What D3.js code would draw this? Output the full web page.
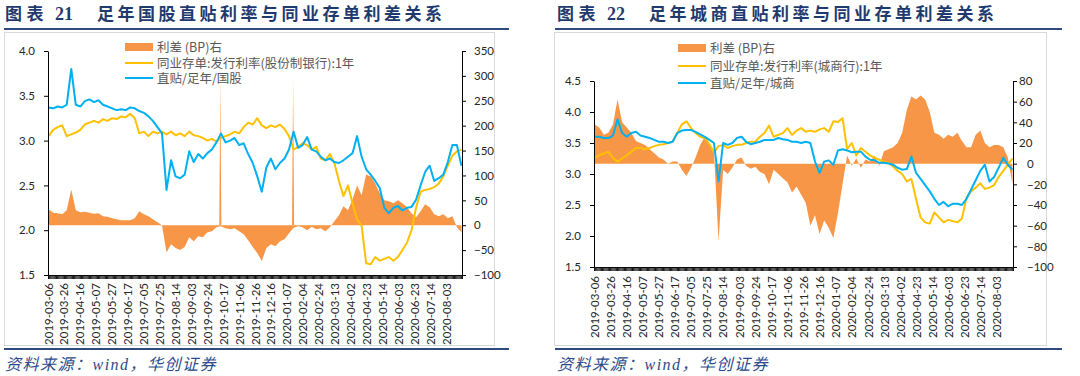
<!DOCTYPE html>
<html>
<head>
<meta charset="utf-8">
<script src="https://cdn.jsdelivr.net/npm/d3@7"></script>
<style>
  body { margin: 0; background: #fff; }
  svg { display: block; }
  .tick text, .date-label { font-family: Lato, "Liberation Sans", sans-serif; font-size: 11.5px; fill: #262626; }
</style>
</head>
<body>
<svg id="chart" width="1080" height="376"></svg>
<script>
// trading days shown on both x axes (2019-03-06 .. ~2020-08-20)
const dayCount = 364
const labelEvery = 14
const dateLabels = [
  '2019-03-06', '2019-03-26', '2019-04-16', '2019-05-07', '2019-05-27', '2019-06-17',
  '2019-07-05', '2019-07-25', '2019-08-14', '2019-09-03', '2019-09-24', '2019-10-17',
  '2019-11-06', '2019-11-26', '2019-12-16', '2020-01-07', '2020-02-04', '2020-02-24',
  '2020-03-13', '2020-04-02', '2020-04-23', '2020-05-14', '2020-06-03', '2020-06-23',
  '2020-07-14', '2020-08-03'
]

// chart 21: 国股 (values read every ~4 trading days)
const gbBill = [
  3.37, 3.36, 3.38, 3.37, 3.40, 3.80, 3.40, 3.38, 3.44, 3.46,
  3.43, 3.45, 3.40, 3.38, 3.36, 3.34, 3.35, 3.34, 3.37, 3.36,
  3.33, 3.31, 3.27, 3.22, 3.15, 3.08, 2.45, 2.78, 2.60, 2.58,
  2.62, 2.88, 2.76, 2.85, 2.80, 2.86, 2.90, 2.98, 3.08, 2.98,
  3.00, 3.03, 2.95, 2.97, 2.85, 2.75, 2.60, 2.43, 2.70, 2.80,
  2.68, 2.75, 2.80, 2.90, 3.10, 2.92, 2.95, 3.04, 2.90, 2.88,
  2.82, 2.78, 2.80, 2.76, 2.75, 2.78, 2.82, 2.86, 3.05, 2.82,
  2.68, 2.62, 2.55, 2.47, 2.25, 2.19, 2.25, 2.27, 2.22, 2.25,
  2.26, 2.34, 2.50, 2.65, 2.72, 2.55, 2.58, 2.62, 2.76, 2.95,
  2.95, 2.72
]
const gbNcd = [
  3.05, 3.12, 3.15, 3.17, 3.05, 3.07, 3.09, 3.12, 3.18, 3.20,
  3.22, 3.20, 3.24, 3.22, 3.25, 3.24, 3.27, 3.26, 3.30, 3.25,
  3.08, 3.10, 3.05, 3.10, 3.08, 3.10, 3.07, 3.10, 3.06, 3.08,
  3.05, 3.10, 3.06, 3.05, 3.03, 3.00, 3.02, 2.99, 3.03, 3.05,
  3.07, 3.10, 3.08, 3.15, 3.20, 3.18, 3.25, 3.17, 3.14, 3.17,
  3.15, 3.18, 3.13, 3.05, 2.90, 2.93, 2.97, 2.95, 2.90, 2.93,
  2.80, 2.78, 2.85, 2.75, 2.55, 2.38, 2.50, 2.30, 2.12, 2.05,
  1.63, 1.62, 1.70, 1.66, 1.68, 1.70, 1.66, 1.70, 1.78, 1.86,
  2.00, 2.25, 2.43, 2.45, 2.46, 2.48, 2.52, 2.60, 2.72, 2.83,
  2.88, 2.90
]
const gbSpread = [
  32, 25, 24, 22, 30, 72, 30, 26, 27, 25,
  23, 24, 18, 17, 14, 12, 10, 10, 10, 14,
  28, 22, 18, 12, 6, 0, -55, -38, -46, -50,
  -44, -24, -32, -22, -24, -14, -12, -4, -2, -6,
  -8, -6, -12, -18, -30, -44, -56, -72, -46, -38,
  -42, -32, -28, -16, -5, -2, -4, -10, -3, -8,
  -6, -12, -4, 8, 20, 38, 30, 52, 80, 60,
  102, 98, 84, 64, 50, 48, 44, 50, 44, 36,
  24, 16, 28, 42, 36, 22, 18, 22, 14, 18,
  -4, -14
]
// single-day jumps in the spread
const gbSpikeDays = [151, 215]
const gbSpikeValues = [290, 292]

// chart 22: 城商
const ccBill = [
  3.60, 3.60, 3.58, 3.58, 3.62, 3.88, 3.66, 3.60, 3.66, 3.68,
  3.62, 3.60, 3.58, 3.55, 3.52, 3.52, 3.50, 3.52, 3.66, 3.70,
  3.71, 3.71, 3.68, 3.64, 3.60, 3.55, 3.50, 2.88, 3.50, 3.47,
  3.50, 3.58, 3.60, 3.52, 3.48, 3.50, 3.52, 3.55, 3.55, 3.55,
  3.58, 3.56, 3.55, 3.52, 3.52, 3.50, 3.52, 3.50, 3.20, 3.02,
  3.20, 3.22, 3.15, 3.38, 3.40, 3.38, 3.35, 3.36, 3.36, 3.28,
  3.23, 3.22, 3.18, 3.18, 3.17, 3.15, 3.10, 3.07, 3.08, 3.28,
  3.02, 2.92, 2.82, 2.72, 2.60, 2.50, 2.55, 2.48, 2.52, 2.52,
  2.50, 2.60, 2.75, 2.90, 3.05, 3.15, 2.88, 2.95, 3.10, 3.26,
  3.15, 3.07
]
const ccNcd = [
  3.26, 3.30, 3.33, 3.36, 3.26, 3.20, 3.25, 3.30, 3.36, 3.42,
  3.42, 3.40, 3.42, 3.45, 3.47, 3.48, 3.50, 3.52, 3.66, 3.80,
  3.85, 3.74, 3.66, 3.60, 3.58, 3.48, 3.35, 3.45, 3.47, 3.42,
  3.45, 3.47, 3.47, 3.50, 3.52, 3.52, 3.60, 3.66, 3.78, 3.60,
  3.63, 3.66, 3.74, 3.63, 3.70, 3.74, 3.68, 3.70, 3.68, 3.72,
  3.74, 3.68, 3.85, 3.84, 3.90, 3.40, 3.50, 3.30, 3.42, 3.36,
  3.30, 3.26, 3.23, 3.20, 3.18, 3.12, 3.05, 3.00, 2.88, 2.92,
  2.60, 2.30, 2.22, 2.20, 2.38, 2.30, 2.22, 2.26, 2.24, 2.22,
  2.28, 2.62, 2.72, 2.78, 2.85, 2.76, 2.78, 2.82, 2.95, 3.05,
  3.15, 3.25
]
const ccSpread = [
  38, 35, 28, 30, 38, 62, 40, 35, 30, 22,
  20, 18, 14, 10, 6, 4, 0, 2, 2, -6,
  -12, -4, 6, 18, 26, 20, 12, -75, -6, -10,
  -4, 4, 6, -2, -5, -3, -8, -10, -20, -6,
  -10, -14, -18, -28, -22, -30, -38, -60, -50, -68,
  -55, -62, -72, -48, -20, 8, -2, 5, -4, 4,
  2, 8, -2, 12, 14, 16, 20, 30, 52, 65,
  62, 66, 62, 50, 30, 28, 24, 28, 26, 30,
  22, 16, 16, 28, 32, 20, 16, 18, 18, 16,
  6, -20
]
const ccSpikeDays = []
const ccSpikeValues = []

const orange = '#F79646'
const yellow = '#FFC000'
const blue = '#00B0F0'
const navy = '#1f3a6e'

const svg = d3.select('#chart')

function drawPanel (p) {
  const g = svg.append('g')

  // frame and rules
  g.append('rect')
    .attr('x', p.box[0] + 0.5).attr('y', 32.5)
    .attr('width', p.box[1] - p.box[0]).attr('height', 313)
    .attr('fill', 'none').attr('stroke', '#d9d9d9')
  g.append('line')
    .attr('x1', p.rule[0]).attr('x2', p.rule[1]).attr('y1', 29).attr('y2', 29)
    .attr('stroke', '#2e4a80').attr('stroke-width', 2)
  g.append('line')
    .attr('x1', p.rule[0]).attr('x2', p.rule[1]).attr('y1', 349).attr('y2', 349)
    .attr('stroke', '#2e4a80').attr('stroke-width', 2)

  // title
  const t = g.append('text').attr('y', 20).attr('fill', navy)
    .attr('font-size', 17).attr('font-weight', 700)
  t.append('tspan').attr('x', p.titleX).attr('font-family', 'Noto Sans CJK SC')
    .attr('letter-spacing', 4.5).text('图表')
  t.append('tspan').attr('x', p.titleX + 50).attr('font-family', 'Liberation Serif')
    .attr('font-size', 18).text(p.number)
  t.append('tspan').attr('x', p.titleX + 92).attr('font-family', 'Noto Sans CJK SC')
    .attr('letter-spacing', 3.5).text(p.title)

  // source
  g.append('text')
    .attr('x', p.titleX).attr('y', 370)
    .attr('fill', '#2b4b8c').attr('font-size', 16).attr('font-style', 'italic')
    .attr('letter-spacing', 1.5)
    .attr('font-family', '"Liberation Serif", "Noto Sans CJK SC"')
    .text('资料来源：wind，华创证券')

  // scales
  const x = d3.scaleLinear().domain([-0.5, dayCount - 0.5]).range([p.left, p.right])
  const yL = d3.scaleLinear().domain(p.leftDomain).range([p.bottom, p.top])
  const yR = d3.scaleLinear().domain(p.rightDomain).range([p.bottom, p.top])
  const step = (dayCount - 1) / (p.bill.length - 1)

  // spread area (secondary axis)
  const area = d3.area()
    .x((d, i) => x(i * step))
    .y0(yR(0))
    .y1(d => yR(d))
  g.append('path').datum(p.spread).attr('d', area).attr('fill', orange)

  const spikeArea = d3.area().x(d => x(d[0])).y0(yR(0)).y1(d => yR(d[1]))
  g.selectAll('path.spike')
    .data(p.spikeDays)
    .join('path')
    .classed('spike', true)
    .attr('d', (d, i) => spikeArea([[d - 0.9, 0], [d, p.spikeValues[i]], [d + 0.9, 0]]))
    .attr('fill', orange)

  // lines
  const line = d3.line().x((d, i) => x(i * step)).y(d => yL(d))
  g.append('path').datum(p.ncd).attr('d', line)
    .attr('fill', 'none').attr('stroke', yellow).attr('stroke-width', 2)
    .attr('stroke-linejoin', 'round')
  g.append('path').datum(p.bill).attr('d', line)
    .attr('fill', 'none').attr('stroke', blue).attr('stroke-width', 2)
    .attr('stroke-linejoin', 'round')

  // axes
  g.append('g')
    .attr('transform', `translate(${p.left}, 0)`)
    .call(d3.axisLeft(yL).tickValues(p.leftTicks).tickFormat(d3.format('.1f'))
      .tickSize(4).tickSizeOuter(0).tickPadding(9))

  const rAxis = g.append('g')
    .attr('transform', `translate(${p.right}, 0)`)
    .call(d3.axisRight(yR).tickValues(p.rightTicks).tickSize(4).tickSizeOuter(0).tickPadding(8))
  if (p.rightLabelX) {
    rAxis.selectAll('.tick text').attr('x', d => (d > 0 ? p.rightLabelX[0] : p.rightLabelX[1]))
  }

  // dense category ticks
  g.append('g')
    .attr('transform', `translate(0, ${p.bottom})`)
    .call(d3.axisBottom(x).tickValues(d3.range(dayCount + 1).map(d => d - 0.5))
      .tickFormat('').tickSize(4).tickSizeOuter(0))
    .call(a => a.selectAll('.tick line').attr('stroke', '#111'))

  // date labels, every 14th category, rotated
  g.append('g')
    .selectAll('text')
    .data(dateLabels)
    .join('text')
    .attr('class', 'date-label')
    .attr('text-anchor', 'end')
    .attr('transform', (d, i) =>
      `translate(${x(i * labelEvery) + 4}, ${p.bottom + p.labelGap}) rotate(-90)`)
    .text(d => d)

  // legend
  const lg = g.append('g').attr('font-family', '"Noto Sans CJK SC", sans-serif')
    .attr('font-size', 12.5).attr('fill', '#595959')
  lg.append('rect').attr('x', p.legX).attr('y', p.legY[0] - 4).attr('width', 28).attr('height', 8)
    .attr('fill', orange)
  lg.append('line').attr('x1', p.legX).attr('x2', p.legX + 28)
    .attr('y1', p.legY[1]).attr('y2', p.legY[1]).attr('stroke', yellow).attr('stroke-width', 2)
  lg.append('line').attr('x1', p.legX).attr('x2', p.legX + 28)
    .attr('y1', p.legY[2]).attr('y2', p.legY[2]).attr('stroke', blue).attr('stroke-width', 2)
  p.legend.forEach((s, i) => {
    lg.append('text').attr('x', p.legX + 32).attr('y', p.legY[i]).attr('dy', '0.36em').text(s)
  })
}

drawPanel({
  box: [4, 494], rule: [4, 509], titleX: 5,
  number: '21', title: '足年国股直贴利率与同业存单利差关系',
  left: 48, right: 462, top: 51, bottom: 275, labelGap: 8,
  leftDomain: [1.5, 4.0], leftTicks: [1.5, 2.0, 2.5, 3.0, 3.5, 4.0],
  rightDomain: [-100, 350], rightTicks: [-100, -50, 0, 50, 100, 150, 200, 250, 300, 350],
  bill: gbBill, ncd: gbNcd, spread: gbSpread,
  spikeDays: gbSpikeDays, spikeValues: gbSpikeValues,
  legX: 125, legY: [47, 63, 78],
  legend: ['利差 (BP)右', '同业存单:发行利率(股份制银行):1年', '直贴/足年/国股']
})

drawPanel({
  box: [554, 1046], rule: [555, 1062], titleX: 557,
  number: '22', title: '足年城商直贴利率与同业存单利差关系',
  left: 594, right: 1013, top: 81, bottom: 267, labelGap: 9,
  leftDomain: [1.5, 4.5], leftTicks: [1.5, 2.0, 2.5, 3.0, 3.5, 4.0, 4.5],
  rightDomain: [-100, 80], rightTicks: [-100, -80, -60, -40, -20, 0, 20, 40, 60, 80],
  rightLabelX: [6, 14],
  bill: ccBill, ncd: ccNcd, spread: ccSpread,
  spikeDays: ccSpikeDays, spikeValues: ccSpikeValues,
  legX: 678, legY: [48, 66, 83],
  legend: ['利差 (BP)右', '同业存单:发行利率(城商行):1年', '直贴/足年/城商']
})
</script>
</body>
</html>
